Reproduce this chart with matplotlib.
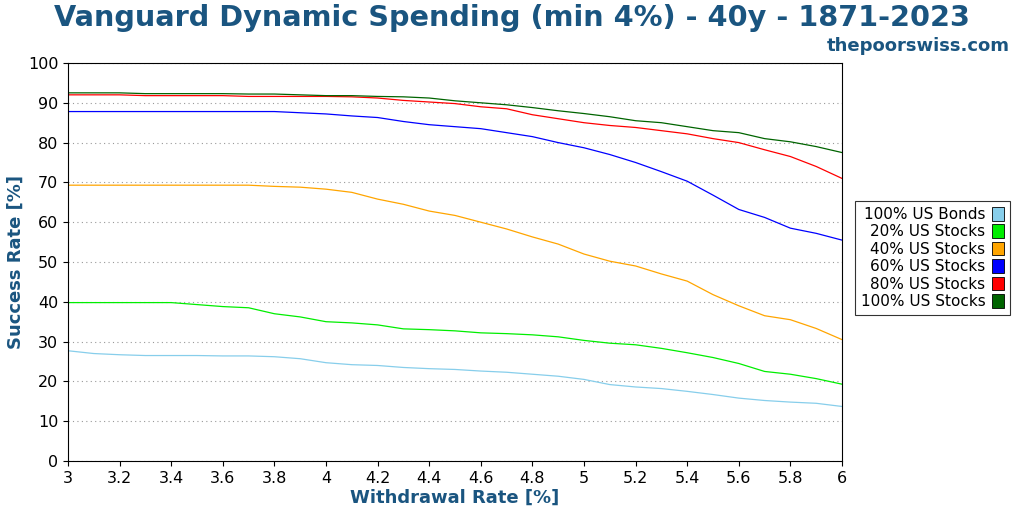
import numpy as np
import matplotlib
matplotlib.use("Agg")
import matplotlib.pyplot as plt
from matplotlib.patches import Patch

rates = [round(3.0 + 0.1*i, 1) for i in range(31)]
bonds100 = [27.7,27,26.7,26.5,26.5,26.5,26.4,26.4,26.2,25.7,24.7,24.2,24,23.5,23.2,23,22.6,22.3,21.8,21.3,20.5,19.2,18.6,18.2,17.5,16.7,15.8,15.2,14.8,14.5,13.7]
stocks20 = [39.8,39.8,39.8,39.8,39.8,39.3,38.8,38.5,37,36.2,35,34.7,34.2,33.2,33,32.7,32.2,32,31.7,31.2,30.3,29.6,29.2,28.3,27.2,26,24.5,22.5,21.8,20.7,19.3]
stocks40 = [69.3,69.3,69.3,69.3,69.3,69.3,69.3,69.3,69,68.8,68.3,67.5,65.8,64.5,62.8,61.7,60,58.3,56.3,54.5,52,50.2,49,47,45.2,41.8,39,36.5,35.5,33.3,30.5]
stocks60 = [87.8,87.8,87.8,87.8,87.8,87.8,87.8,87.8,87.8,87.5,87.2,86.7,86.3,85.3,84.5,84,83.5,82.5,81.5,80,78.7,77,75,72.7,70.3,66.8,63.2,61.2,58.5,57.2,55.5]
stocks80 = [92,92,92,91.8,91.8,91.8,91.8,91.6,91.6,91.6,91.6,91.5,91.2,90.6,90.2,89.8,89,88.5,87,86,85,84.3,83.8,83,82.2,81,80,78.2,76.5,74,71]
stocks100 = [92.5,92.5,92.5,92.3,92.3,92.3,92.3,92.2,92.2,92,91.8,91.8,91.6,91.5,91.2,90.5,90,89.5,88.8,88,87.3,86.5,85.5,85,84,83,82.5,81,80.2,79,77.5]

labels = ["100% US Bonds","20% US Stocks","40% US Stocks","60% US Stocks","80% US Stocks","100% US Stocks"]
colors = ["#87ceeb","#00ee00","#ffa500","#0000ff","#ff0000","#006400"]
series = [bonds100, stocks20, stocks40, stocks60, stocks80, stocks100]

fig = plt.figure(figsize=(10.24,5.12), dpi=100)
ax = fig.add_axes([68/1024, 1-461/512, (842-68)/1024, (461-63)/512])
for s,c in zip(series, colors):
    ax.plot(rates, s, color=c, lw=0.9)
ax.set_xlim(3,6); ax.set_ylim(0,100)
ax.set_xticks(np.arange(3,6.01,0.2))
ax.set_xticklabels([f"{v:g}" for v in np.arange(3,6.01,0.2).round(1)])
ax.set_yticks(range(0,101,10))
ax.grid(axis='y', linestyle=(0,(1,3)), color='#999999', lw=0.8)
ax.tick_params(labelsize=11.5)
tc = "#1a5580"
ax.set_xlabel("Withdrawal Rate [%]", fontsize=13, fontweight='bold', color=tc, labelpad=2)
ax.set_ylabel("Success Rate [%]", fontsize=13, fontweight='bold', color=tc, labelpad=2)
fig.text(0.5, 0.965, "Vanguard Dynamic Spending (min 4%) - 40y - 1871-2023", ha='center', va='center',
         fontsize=20.7, fontweight='bold', color=tc)
fig.text(0.986, 0.91, "thepoorswiss.com", ha='right', va='center', fontsize=13, fontweight='bold', color=tc)
handles = [Patch(facecolor=c, edgecolor='black', lw=0.6) for c in colors]
leg = fig.legend(handles, labels, loc='center left', bbox_to_anchor=(847/1024, 1-258/512), markerfirst=False,
                 fontsize=11, frameon=True, fancybox=False, edgecolor='black', handlelength=0.8, handleheight=1.0,
                 borderpad=0.4, labelspacing=0.15, handletextpad=0.4)
leg.get_frame().set_linewidth(0.8)
fig.savefig("out.png", dpi=100)
